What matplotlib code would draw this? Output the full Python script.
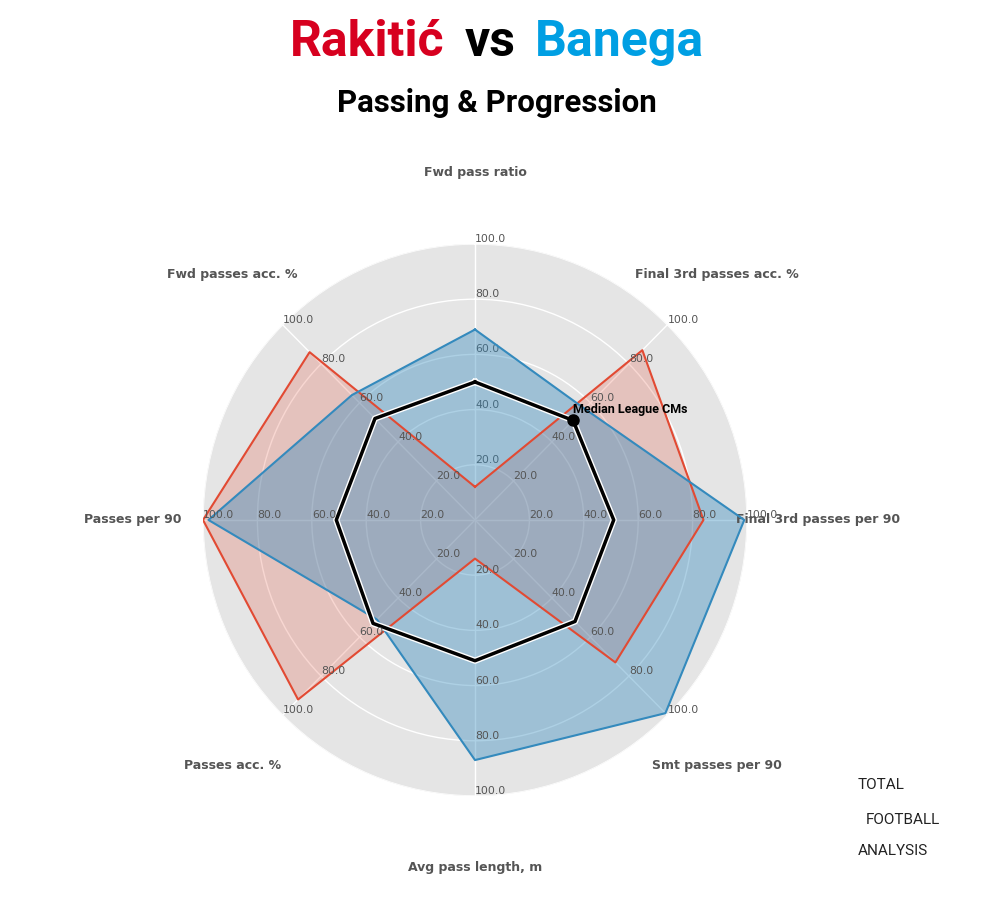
import numpy as np
import matplotlib
matplotlib.use("Agg")
import matplotlib.pyplot as plt
import matplotlib.patheffects as pe
from matplotlib.offsetbox import TextArea, HPacker, AnnotationBbox

plt.style.use("ggplot")

# kategorier, medurs från toppen
variables = ["Fwd pass ratio", "Final 3rd passes acc. %", "Final 3rd passes per 90",
             "Smt passes per 90", "Avg pass length, m", "Passes acc. %",
             "Passes per 90", "Fwd passes acc. %"]

rakitic = [12, 87, 84, 73, 14, 92, 100, 86]
banega = [69, 57, 99, 99, 87, 51, 98, 64]
median = [50, 51, 51, 52, 51, 53, 51, 52]

grid_vals = [0, 20, 40, 60, 80, 100]
grid_labels = ["", "20.0", "40.0", "60.0", "80.0", "100.0"]

red = "#E24A33"
blue = "#348ABD"
title_font = ["Roboto", "DejaVu Sans"]

fig = plt.figure(figsize=(10, 9), dpi=100)
fig.patch.set_facecolor("white")

rect = [0.203, 0.1156, 0.544, 0.6133]
n = len(variables)
angles = np.arange(0, 360, 360 / n)
theta = np.deg2rad(angles)

# en polär axel per kategori, som ComplexRadar
axes = [fig.add_axes(rect, polar=True, label="ax%d" % i) for i in range(n)]
for i, ax in enumerate(axes):
    ax.set_theta_zero_location("N")
    ax.set_theta_direction(-1)
    ax.set_aspect("auto")
    ax.set_ylim(0, 100)
    if i > 0:
        ax.patch.set_visible(False)
        ax.grid(False)
        ax.xaxis.set_visible(False)
    ax.set_rgrids(grid_vals[1:], labels=grid_labels[1:], angle=angles[i])
    ax.tick_params(axis="y", labelsize=7.8, labelcolor="#555555")
    ax.spines["polar"].set_visible(False)
    ax.set_ylim(0, 100)

ax = axes[0]
ax.set_facecolor("#E5E5E5")
ax.set_thetagrids(angles, labels=[""] * n)
ax.grid(True, color="white", linewidth=1)

# kategorinamn utanför cirkeln
for t, name in zip(theta, variables):
    ax.text(t, 126, name, ha="center", va="center", fontsize=9, fontweight="bold",
            color="#555555", clip_on=False)

th = np.append(theta, theta[0])

def closed(v):
    return np.append(v, v[0])

ax.plot(th, closed(rakitic), color=red, linewidth=1.5, zorder=3)
ax.fill(th, closed(rakitic), color=red, alpha=0.22, zorder=2)
ax.plot(th, closed(banega), color=blue, linewidth=1.5, zorder=3)
ax.fill(th, closed(banega), color=blue, alpha=0.4, zorder=2)

ax.plot(th, closed(median), color="black", linewidth=2.5, zorder=5,
        path_effects=[pe.Stroke(linewidth=4.5, foreground="white"), pe.Normal()])
ax.plot(theta[1], median[1], "o", color="black", markersize=8, zorder=6)
ax.annotate("Median League CMs", xy=(theta[1], median[1]), xytext=(0, 3),
            textcoords="offset points", ha="left", va="bottom", fontsize=9,
            fontweight="bold", family=title_font, zorder=7)

# rubrik i tre färger
parts = [TextArea("Rakitić", textprops=dict(color="#D7001F", fontsize=36, fontweight="bold", family=title_font)),
         TextArea("vs", textprops=dict(color="black", fontsize=36, fontweight="bold", family=title_font)),
         TextArea("Banega", textprops=dict(color="#009FE3", fontsize=36, fontweight="bold", family=title_font))]
box = HPacker(children=parts, pad=0, sep=14, align="baseline")
fig.add_artist(AnnotationBbox(box, (0.497, 0.953), xycoords="figure fraction",
                              frameon=False, box_alignment=(0.5, 0.5)))

fig.text(0.497, 0.886, "Passing & Progression", ha="center", va="center",
         fontsize=22.5, fontweight="bold", family=title_font)

# logotyp
fig.text(0.858, 0.123, "TOTAL", fontsize=11, family=title_font, color="#222222")
fig.text(0.866, 0.084, "FOOTBALL", fontsize=11, family=title_font, color="#222222")
fig.text(0.858, 0.050, "ANALYSIS", fontsize=11, family=title_font, color="#222222")

fig.savefig("out.png", dpi=100, facecolor="white")
